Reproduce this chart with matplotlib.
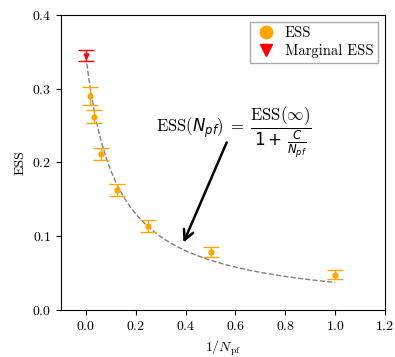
import numpy as np
import matplotlib
matplotlib.use("Agg")
import matplotlib.pyplot as plt
from matplotlib.lines import Line2D

plt.rcParams['font.family'] = 'serif'
plt.rcParams['font.serif'] = ['cmr10']
plt.rcParams['axes.formatter.use_mathtext'] = True
plt.rcParams['mathtext.fontset'] = 'custom'
plt.rcParams['mathtext.rm'] = 'cmr10'
plt.rcParams['mathtext.it'] = 'cmmi10'
plt.rcParams['mathtext.bf'] = 'cmb10'
plt.rcParams['mathtext.sf'] = 'DejaVu Sans'
plt.rcParams['mathtext.tt'] = 'DejaVu Sans:italic'
plt.rcParams['mathtext.fallback'] = 'cm'

# data
inv_npf = [1/64, 1/32, 1/16, 1/8, 1/4, 1/2, 1.0]
ess = [0.290, 0.262, 0.212, 0.163, 0.114, 0.079, 0.048]
ess_err = [0.012, 0.009, 0.008, 0.008, 0.008, 0.007, 0.006]
marg_x = [0.0]
marg_ess = [0.345]
marg_err = [0.008]
ess_inf = 0.344
C_fit = 8.2

fig = plt.figure(figsize=(3.95, 3.57), dpi=100)
ax = fig.add_axes([0.1544, 0.1317, 0.8203, 0.8263])

xf = np.linspace(0, 1, 200)
ax.plot(xf, ess_inf / (1 + C_fit * xf), ls='--', color='gray', lw=1, zorder=1)

ax.errorbar(inv_npf, ess, yerr=ess_err, fmt='o', color='orange', ms=3.5,
            capsize=5.5, elinewidth=1, capthick=1, zorder=3)
ax.errorbar(marg_x, marg_ess, yerr=marg_err, fmt='v', color='red', ms=3.5,
            capsize=5.5, elinewidth=1, capthick=1, zorder=3)

ax.annotate('', xy=(0.387, 0.088), xytext=(0.569, 0.2305),
            arrowprops=dict(arrowstyle='->', lw=1.8, color='black', mutation_scale=18))
ax.text(0.594, 0.2414,
        r'$\mathrm{ESS}(\mathtt{N_{pf}})\; =\; \dfrac{\mathrm{ESS}(\infty)}{\mathsf{1+}\, \frac{\mathtt{C}}{\mathtt{N_{pf}}}}$',
        ha='center', va='center', fontsize=12)

ax.set_xlim(-0.1, 1.2)
ax.set_ylim(0.0, 0.4)
ax.set_xticks([0.0, 0.2, 0.4, 0.6, 0.8, 1.0, 1.2])
ax.set_yticks([0.0, 0.1, 0.2, 0.3, 0.4])
ax.set_xlabel(r'$1/N_{\rm pf}$', fontsize=10)
ax.set_ylabel('ESS', fontsize=10)
ax.tick_params(labelsize=10)

handles = [Line2D([], [], marker='o', color='orange', ls='none', ms=9),
           Line2D([], [], marker='v', color='red', ls='none', ms=9)]
ax.legend(handles, ['ESS', 'Marginal ESS'], loc='upper right', handletextpad=0.5,
          fontsize=10.5, fancybox=False, edgecolor='#aaaaaa', framealpha=1,
          borderpad=0.35, labelspacing=0.25, handlelength=1.5,
          borderaxespad=0.45)

fig.savefig('out.png', dpi=100)
